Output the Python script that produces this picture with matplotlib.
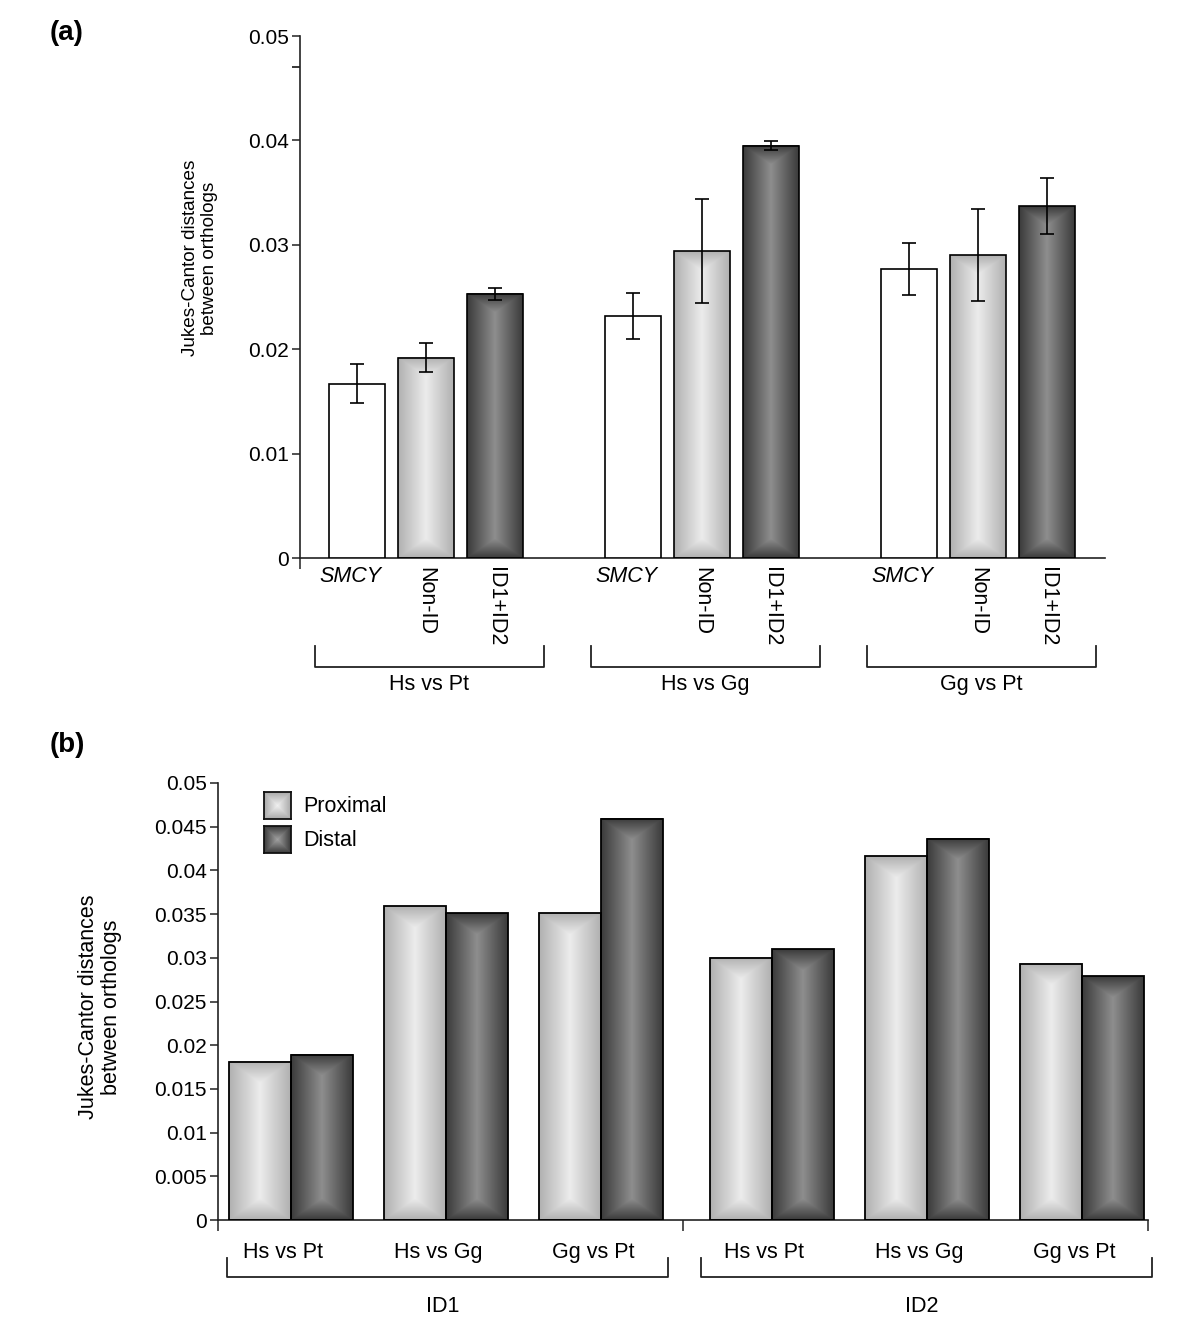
import numpy as np
import matplotlib
matplotlib.use('Agg')
import matplotlib.pyplot as plt
from matplotlib.colors import to_rgb

plt.rcParams['font.family'] = ['Liberation Sans', 'DejaVu Sans']

# ---------------- Data ----------------
# Panel (a)
groups_a = ['Hs vs Pt', 'Hs vs Gg', 'Gg vs Pt']
series_a = ['SMCY', 'Non-ID', 'ID1+ID2']
smcy_a = [0.0167, 0.0232, 0.0277]
smcy_err_a = [0.0019, 0.0022, 0.0025]
nonid_a = [0.0192, 0.0294, 0.0290]
nonid_err_a = [0.0014, 0.0050, 0.0044]
id12_a = [0.0253, 0.0395, 0.0337]
id12_err_a = [0.0006, 0.00045, 0.0027]
yticks_a = [0, 0.01, 0.02, 0.03, 0.04, 0.05]
yticklabels_a = ['0', '0.01', '0.02', '0.03', '0.04', '0.05']

# Panel (b)
comparisons_b = ['Hs vs Pt', 'Hs vs Gg', 'Gg vs Pt', 'Hs vs Pt', 'Hs vs Gg', 'Gg vs Pt']
regions_b = ['ID1', 'ID2']
proximal_b = [0.0181, 0.0359, 0.0351, 0.0300, 0.0416, 0.0293]
distal_b = [0.0189, 0.0351, 0.0459, 0.0310, 0.0436, 0.0279]
yticks_b = [0, 0.005, 0.01, 0.015, 0.02, 0.025, 0.03, 0.035, 0.04, 0.045, 0.05]
yticklabels_b = ['0', '0.005', '0.01', '0.015', '0.02', '0.025', '0.03', '0.035',
                 '0.04', '0.045', '0.05']

ylabel = 'Jukes-Cantor distances\nbetween orthologs'

# ---------------- Styles ----------------
LIGHT = ('#ececec', '#b0b0b0')   # (center, edge)
DARK = ('#8e8e8e', '#3a3a3a')
FS = 15.5
FS_TICK = 15
W, H = 1200, 1341

fig = plt.figure(figsize=(W / 100, H / 100), dpi=100)


def fig_rect(left, top, right, bottom):
    return [left / W, 1 - bottom / H, (right - left) / W, (bottom - top) / H]


def gradient_bar(ax, patch, colors, fig):
    center, edge = np.array(to_rgb(colors[0])), np.array(to_rgb(colors[1]))
    x0, y0 = patch.get_x(), patch.get_y()
    w, h = patch.get_width(), patch.get_height()
    p0 = ax.transData.transform((x0, y0))
    p1 = ax.transData.transform((x0 + w, y0 + h))
    wp = max(int(round(abs(p1[0] - p0[0]))), 2)
    hp = max(int(round(abs(p1[1] - p0[1]))), 2)
    u = (np.arange(wp) + 0.5) / wp
    yy = np.arange(hp) + 0.5
    D = wp / 2 * 0.7
    tx = np.abs(2 * u - 1)[None, :] * np.ones((hp, 1))
    ttop = np.clip(1 - yy / D, 0, 1)[:, None]
    tbot = np.clip(1 - (hp - yy) / D, 0, 1)[:, None]
    t = np.maximum(tx, np.maximum(ttop, tbot))
    img = center[None, None, :] + (edge - center)[None, None, :] * t[:, :, None]
    ax.imshow(img, extent=(x0, x0 + w, y0, y0 + h), origin='upper', aspect='auto',
              interpolation='bilinear', zorder=2)


def style_axis(ax):
    for s in ['top', 'right']:
        ax.spines[s].set_visible(False)
    for s in ['left', 'bottom']:
        ax.spines[s].set_linewidth(1.2)
        ax.spines[s].set_color('#222222')
    ax.tick_params(axis='y', direction='out', length=6, width=1.1, labelsize=FS_TICK,
                   pad=2, colors='#222222', labelcolor='black')
    ax.tick_params(axis='x', direction='out', length=8, width=1.1, labelbottom=False,
                   colors='#222222')


# ================= Panel (a) =================
axa = fig.add_axes(fig_rect(300, 36, 1105, 558))
xa_left, xa_right = -0.826, 10.84
group_step = 4
bw_a = 0.81
xs = np.arange(len(groups_a)) * group_step

bars_smcy = axa.bar(xs + 0, smcy_a, bw_a, facecolor='white', edgecolor='black',
                    linewidth=1.2, zorder=3)
bars_non = axa.bar(xs + 1, nonid_a, bw_a, facecolor='none', edgecolor='black',
                   linewidth=1.2, zorder=3)
bars_id = axa.bar(xs + 2, id12_a, bw_a, facecolor='none', edgecolor='black',
                  linewidth=1.2, zorder=3)
axa.errorbar(xs + 0, smcy_a, yerr=smcy_err_a, fmt='none', ecolor='black',
             elinewidth=1.2, capsize=5, capthick=1.2, zorder=4)
axa.errorbar(xs + 1, nonid_a, yerr=nonid_err_a, fmt='none', ecolor='black',
             elinewidth=1.2, capsize=5, capthick=1.2, zorder=4)
axa.errorbar(xs + 2, id12_a, yerr=id12_err_a, fmt='none', ecolor='black',
             elinewidth=1.2, capsize=5, capthick=1.2, zorder=4)

axa.set_xlim(xa_left, xa_right)
axa.set_ylim(0, 0.05)
axa.set_yticks(yticks_a)
axa.set_yticklabels(yticklabels_a)
axa.set_yticks([0.047], minor=True)
axa.tick_params(axis='y', which='minor', length=6, width=1.1, direction='out')
axa.set_xticks([xa_left])
style_axis(axa)

for p in bars_non:
    gradient_bar(axa, p, LIGHT, fig)
for p in bars_id:
    gradient_bar(axa, p, DARK, fig)
axa.set_xlim(xa_left, xa_right)
axa.set_ylim(0, 0.05)

tra = axa.get_xaxis_transform()
for gi, g in enumerate(groups_a):
    base = gi * group_step
    axa.text(base + 0 - 0.09, -0.036, series_a[0], transform=tra, ha='center',
             va='center', fontsize=FS, style='italic', clip_on=False)
    axa.text(base + 1, -0.017, series_a[1], transform=tra, ha='center', va='top',
             fontsize=FS, rotation=-90, clip_on=False)
    axa.text(base + 2, -0.017, series_a[2], transform=tra, ha='center', va='top',
             fontsize=FS, rotation=-90, clip_on=False)
    bl, br = base - 0.61, base + 2.71
    axa.plot([bl, bl, br, br], [-0.169, -0.209, -0.209, -0.169], transform=tra,
             color='#222222', lw=1.3, clip_on=False)
    axa.text((bl + br) / 2, -0.243, g, transform=tra, ha='center', va='center',
             fontsize=FS, clip_on=False)

fig.text(200 / W, 1 - 258 / H, ylabel, rotation=90, ha='center', va='center',
         fontsize=13.6, linespacing=1.2)
fig.text(50 / W, 1 - 33 / H, '(a)', fontsize=20, fontweight='bold', ha='left',
         va='center')

# ================= Panel (b) =================
axb = fig.add_axes(fig_rect(218, 783, 1148, 1220))
xb_left, xb_right = -0.471, 5.529
pos_b = np.array([0, 1, 2, 3.1, 4.1, 5.1])
bw_b = 0.4
bars_p = axb.bar(pos_b - bw_b / 2, proximal_b, bw_b, facecolor='none',
                 edgecolor='black', linewidth=1.3, zorder=3)
bars_d = axb.bar(pos_b + bw_b / 2, distal_b, bw_b, facecolor='none',
                 edgecolor='black', linewidth=1.3, zorder=3)
axb.set_xlim(xb_left, xb_right)
axb.set_ylim(0, 0.05)
axb.set_yticks(yticks_b)
axb.set_yticklabels(yticklabels_b)
divider = 2.53
axb.set_xticks([xb_left, divider, xb_right])
style_axis(axb)

for p in bars_p:
    gradient_bar(axb, p, LIGHT, fig)
for p in bars_d:
    gradient_bar(axb, p, DARK, fig)
axb.set_xlim(xb_left, xb_right)
axb.set_ylim(0, 0.05)

trb = axb.get_xaxis_transform()
for x, lab in zip(pos_b, comparisons_b):
    axb.text(x - 0.05, -0.075, lab, transform=trb, ha='center', va='center',
             fontsize=FS, clip_on=False)
for (bl, br), reg in zip([(-0.413, 2.432), (2.645, 5.555)], regions_b):
    axb.plot([bl, bl, br, br], [-0.087, -0.130, -0.130, -0.087], transform=trb,
             color='#222222', lw=1.3, clip_on=False)
    axb.text((bl + br) / 2 - 0.03, -0.197, reg, transform=trb, ha='center',
             va='center', fontsize=FS, clip_on=False)

# Legend (gradient squares)
def legend_box(rect, colors):
    lax = fig.add_axes(rect)
    center, edge = np.array(to_rgb(colors[0])), np.array(to_rgb(colors[1]))
    n = 27
    u = (np.arange(n) + 0.5) / n
    t = np.maximum(np.abs(2 * u - 1)[None, :], np.abs(2 * u - 1)[:, None])
    img = center[None, None, :] + (edge - center)[None, None, :] * t[:, :, None]
    lax.imshow(img, interpolation='bilinear', aspect='auto')
    lax.set_xticks([])
    lax.set_yticks([])
    for s in lax.spines.values():
        s.set_linewidth(1.3)
        s.set_color('#111111')

legend_box(fig_rect(264, 792, 291, 819), ('#f0f0f0', '#a8a8a8'))
legend_box(fig_rect(264, 826, 291, 853), ('#a0a0a0', '#3a3a3a'))
fig.text(303 / W, 1 - 806 / H, 'Proximal', fontsize=FS, ha='left', va='center')
fig.text(303 / W, 1 - 840 / H, 'Distal', fontsize=FS, ha='left', va='center')

fig.text(100 / W, 1 - 1007 / H, ylabel, rotation=90, ha='center', va='center',
         fontsize=15.5, linespacing=1.12)
fig.text(50 / W, 1 - 745 / H, '(b)', fontsize=20, fontweight='bold', ha='left',
         va='center')

fig.savefig('out.png', dpi=100, facecolor='white')
